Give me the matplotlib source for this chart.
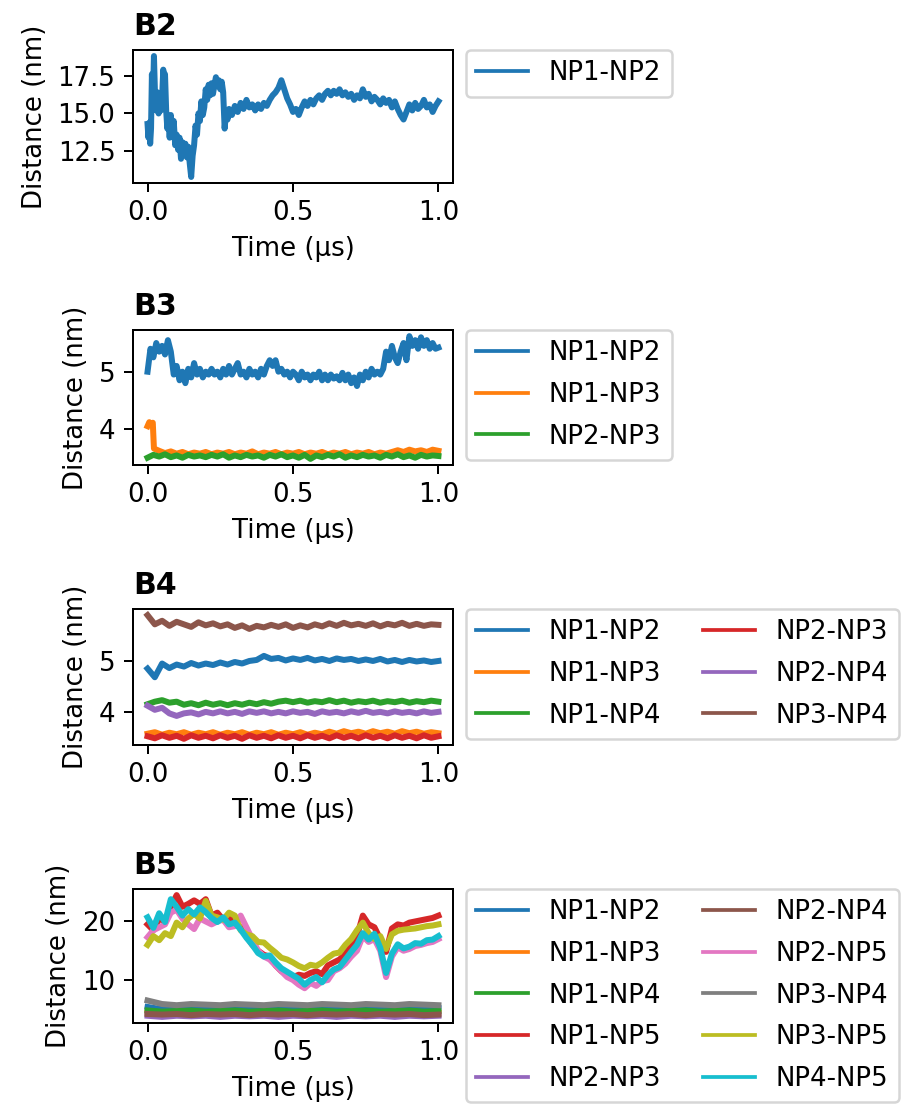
import numpy as np
import matplotlib
matplotlib.use("Agg")
import matplotlib.pyplot as plt

# ---------------- data ----------------
series_names_b2 = ["NP1-NP2"]
t_b2 = [0.000, 0.003, 0.006, 0.009, 0.012, 0.015, 0.018, 0.022, 0.026, 0.030,
        0.034, 0.038, 0.042, 0.046, 0.050, 0.054, 0.057, 0.060, 0.064, 0.068,
        0.072, 0.076, 0.080, 0.085, 0.090, 0.095, 0.100, 0.105, 0.110, 0.115,
        0.120, 0.125, 0.130, 0.135, 0.140, 0.145, 0.150, 0.155, 0.160, 0.165,
        0.170, 0.175, 0.180, 0.185, 0.190, 0.195, 0.200, 0.205, 0.210, 0.215,
        0.220, 0.225, 0.230, 0.235, 0.240, 0.245, 0.250, 0.255, 0.260, 0.265,
        0.270, 0.275, 0.280, 0.290, 0.300, 0.310, 0.320, 0.330, 0.340, 0.350,
        0.360, 0.370, 0.380, 0.390, 0.400, 0.410, 0.420, 0.430, 0.440, 0.450,
        0.460, 0.465, 0.470, 0.480, 0.490, 0.500, 0.510, 0.520, 0.530, 0.540,
        0.550, 0.560, 0.570, 0.580, 0.590, 0.600, 0.610, 0.620, 0.630, 0.640,
        0.650, 0.660, 0.670, 0.680, 0.690, 0.700, 0.710, 0.720, 0.730, 0.740,
        0.750, 0.760, 0.770, 0.780, 0.790, 0.800, 0.810, 0.820, 0.830, 0.840,
        0.850, 0.860, 0.870, 0.880, 0.890, 0.900, 0.910, 0.920, 0.930, 0.940,
        0.950, 0.960, 0.970, 0.980, 0.990, 1.000]
d_b2_np1_np2 = [14.3, 13.4, 14.4, 13.0, 14.0, 17.6, 15.5, 18.8, 16.0, 15.2,
                16.4, 15.0, 15.8, 15.2, 16.0, 17.9, 16.5, 17.6, 15.2, 14.0,
                14.8, 13.4, 14.9, 13.8, 14.5, 12.9, 13.6, 12.6, 13.4, 12.0,
                13.1, 12.4, 13.0, 12.1, 12.8, 11.7, 10.8, 12.2, 12.9, 14.2,
                13.6, 15.0, 14.5, 15.8, 14.9, 15.4, 16.6, 15.9, 16.9, 16.2,
                17.0, 16.3, 16.9, 17.4, 16.8, 17.2, 16.6, 17.1, 16.4, 14.0,
                15.1, 14.6, 15.3, 14.9, 15.5, 15.1, 15.7, 15.3, 15.9, 15.4,
                15.6, 15.2, 15.6, 15.3, 15.7, 15.5, 15.9, 16.2, 16.4, 16.7,
                17.2, 16.9, 16.6, 16.0, 15.6, 15.1, 15.3, 14.9, 15.4, 15.8,
                15.5, 15.9, 15.6, 16.0, 16.2, 15.9, 16.3, 16.5, 16.2, 16.5,
                16.3, 16.6, 16.2, 16.4, 16.1, 16.3, 15.9, 16.2, 16.0, 16.6,
                16.1, 16.3, 15.8, 16.1, 15.9, 15.6, 16.0, 15.7, 15.9, 15.4,
                15.8, 15.3, 14.9, 14.6, 15.1, 15.6, 15.2, 15.7, 15.3, 15.5,
                15.9, 15.4, 15.6, 15.1, 15.5, 15.8]

series_names_b3 = ["NP1-NP2", "NP1-NP3", "NP2-NP3"]
d_b3_np1_np2 = [5.00, 5.40, 5.25, 5.50, 5.35, 5.45, 5.30, 5.55, 5.35, 4.95,
                5.10, 4.85, 5.00, 4.80, 5.05, 4.90, 5.15, 4.95, 5.05, 4.90,
                5.00, 4.95, 5.05, 4.95, 5.00, 4.90, 5.05, 4.95, 5.10, 4.95,
                5.05, 5.15, 4.95, 5.00, 4.90, 5.05, 4.95, 5.00, 4.90, 5.05,
                4.95, 5.10, 5.20, 5.10, 5.20, 5.00, 5.05, 4.95, 5.00, 4.90,
                5.00, 4.95, 4.85, 5.00, 4.90, 4.95, 4.85, 4.95, 4.90, 5.00,
                4.85, 4.95, 4.85, 4.95, 4.88, 4.92, 4.85, 4.98, 4.85, 4.95,
                4.80, 4.90, 4.75, 4.95, 4.85, 5.00, 4.90, 5.05, 4.95, 5.00,
                4.95, 5.05, 5.35, 5.20, 5.45, 5.25, 5.15, 5.35, 5.50, 5.20,
                5.62, 5.45, 5.55, 5.40, 5.60, 5.45, 5.55, 5.40, 5.50, 5.40,
                5.42]
t_b3_np1_np3 = [0.0, 0.006, 0.012, 0.018, 0.022] + [round(0.04 + 0.02 * i, 3) for i in range(49)]
d_b3_np1_np3 = [4.05, 4.12, 4.07, 4.11, 3.66,
                3.62, 3.58, 3.61, 3.57, 3.60, 3.56, 3.59, 3.57, 3.60, 3.56,
                3.59, 3.57, 3.60, 3.56, 3.59, 3.57, 3.61, 3.56, 3.59, 3.57,
                3.60, 3.56, 3.59, 3.57, 3.60, 3.56, 3.59, 3.57, 3.60, 3.56,
                3.59, 3.57, 3.60, 3.56, 3.59, 3.57, 3.60, 3.56, 3.59, 3.57,
                3.60, 3.63, 3.60, 3.64, 3.61, 3.63, 3.60, 3.64, 3.62]
d_b3_np2_np3 = [3.50, 3.55, 3.52, 3.56, 3.51, 3.54, 3.50, 3.55, 3.52, 3.54,
                3.51, 3.55, 3.52, 3.56, 3.50, 3.54, 3.51, 3.55, 3.52, 3.54,
                3.50, 3.55, 3.52, 3.56, 3.51, 3.54, 3.50, 3.55, 3.48, 3.54,
                3.51, 3.55, 3.52, 3.56, 3.50, 3.54, 3.51, 3.55, 3.52, 3.54,
                3.50, 3.55, 3.52, 3.56, 3.51, 3.54, 3.50, 3.55, 3.52, 3.54,
                3.53]

series_names_b4 = ["NP1-NP2", "NP1-NP3", "NP1-NP4", "NP2-NP3", "NP2-NP4", "NP3-NP4"]
d_b4_np1_np2 = [4.85, 4.68, 4.95, 4.86, 4.93, 4.89, 4.96, 4.91, 4.95, 4.92,
                4.97, 4.93, 4.98, 4.95, 5.00, 5.02, 5.10, 5.04, 5.06, 5.01,
                5.05, 5.02, 5.06, 5.01, 5.04, 5.00, 5.05, 5.02, 5.04, 5.00,
                5.03, 5.00, 5.04, 4.99, 5.02, 4.98, 5.02, 4.99, 5.01, 4.98,
                5.00]
d_b4_np1_np3 = [3.57, 3.60, 3.55, 3.59, 3.56, 3.60, 3.55, 3.59, 3.56, 3.60,
                3.55, 3.59, 3.56, 3.60, 3.55, 3.59, 3.56, 3.60, 3.55, 3.59,
                3.56, 3.60, 3.55, 3.59, 3.56, 3.61, 3.57, 3.62, 3.58, 3.61,
                3.57, 3.62, 3.58, 3.61, 3.57, 3.62, 3.58, 3.61, 3.57, 3.60,
                3.58]
d_b4_np1_np4 = [4.15, 4.20, 4.23, 4.18, 4.20, 4.14, 4.17, 4.13, 4.18, 4.14,
                4.17, 4.13, 4.17, 4.14, 4.18, 4.15, 4.19, 4.16, 4.20, 4.22,
                4.19, 4.22, 4.18, 4.21, 4.19, 4.23, 4.19, 4.22, 4.18, 4.21,
                4.19, 4.22, 4.18, 4.21, 4.19, 4.22, 4.18, 4.21, 4.19, 4.22,
                4.20]
d_b4_np2_np3 = [3.52, 3.48, 3.54, 3.49, 3.53, 3.47, 3.54, 3.49, 3.53, 3.48,
                3.54, 3.49, 3.53, 3.47, 3.54, 3.49, 3.53, 3.48, 3.54, 3.49,
                3.53, 3.48, 3.54, 3.49, 3.53, 3.48, 3.54, 3.49, 3.53, 3.48,
                3.54, 3.49, 3.53, 3.48, 3.54, 3.49, 3.53, 3.48, 3.54, 3.49,
                3.52]
d_b4_np2_np4 = [4.12, 4.04, 4.08, 3.97, 3.92, 3.97, 3.99, 3.95, 4.00, 3.97,
                4.01, 3.97, 4.00, 3.96, 4.01, 3.98, 4.01, 3.97, 4.00, 3.97,
                4.01, 3.98, 4.00, 3.96, 4.01, 3.98, 4.00, 3.97, 4.01, 3.98,
                4.02, 3.98, 4.00, 3.97, 4.01, 3.98, 4.00, 3.97, 4.01, 3.98,
                4.00]
d_b4_np3_np4 = [5.90, 5.72, 5.79, 5.69, 5.77, 5.72, 5.67, 5.76, 5.70, 5.74,
                5.68, 5.72, 5.65, 5.70, 5.63, 5.69, 5.66, 5.71, 5.67, 5.72,
                5.65, 5.70, 5.66, 5.72, 5.68, 5.74, 5.69, 5.75, 5.70, 5.73,
                5.69, 5.74, 5.68, 5.73, 5.70, 5.75, 5.69, 5.73, 5.69, 5.72,
                5.71]

series_names_b5 = ["NP1-NP2", "NP1-NP3", "NP1-NP4", "NP1-NP5", "NP2-NP3",
                   "NP2-NP4", "NP2-NP5", "NP3-NP4", "NP3-NP5", "NP4-NP5"]
d_b5_np1_np2 = [5.4, 5.0, 5.3, 5.1, 5.3, 5.2, 5.1, 5.3, 5.2, 5.1, 5.3,
                5.2, 5.1, 5.3, 5.2, 5.1, 5.3, 5.2, 5.1, 5.3, 5.2]
d_b5_np1_np3 = [4.4, 4.5, 4.3, 4.4, 4.5, 4.3, 4.4, 4.5, 4.3, 4.4, 4.5,
                4.3, 4.4, 4.5, 4.3, 4.4, 4.5, 4.3, 4.4, 4.5, 4.4]
d_b5_np1_np4 = [4.8, 4.6, 4.7, 4.8, 4.6, 4.7, 4.8, 4.6, 4.7, 4.8, 4.6,
                4.7, 4.8, 4.6, 4.7, 4.8, 4.6, 4.7, 4.8, 4.6, 4.7]
d_b5_np1_np5 = [19.5, 18.5, 20.5, 20.0, 22.5, 24.5, 22.5, 23.0, 23.6, 23.0,
                23.8, 21.0, 21.5, 20.3, 20.8, 19.6, 19.0, 17.5, 16.0, 15.0,
                14.3, 14.0, 12.5, 11.5, 11.0, 10.5, 10.9, 10.7, 11.2, 11.5,
                11.0, 12.5, 13.0, 13.5, 14.5, 16.0, 17.5, 21.0, 19.5, 19.0,
                17.0, 14.8, 18.8, 19.5, 19.3, 19.8, 20.0, 20.2, 20.4, 20.6,
                21.0]
d_b5_np2_np3 = [3.9, 3.7, 3.9, 3.8, 3.9, 3.7, 3.9, 3.8, 3.9, 3.7, 3.9,
                3.8, 3.9, 3.7, 3.9, 3.8, 3.9, 3.7, 3.9, 3.8, 3.9]
d_b5_np2_np4 = [4.2, 4.1, 4.2, 4.0, 4.2, 4.1, 4.2, 4.0, 4.2, 4.1, 4.2,
                4.0, 4.2, 4.1, 4.2, 4.0, 4.2, 4.1, 4.2, 4.0, 4.1]
d_b5_np2_np5 = [17.3, 18.5, 19.0, 19.5, 21.5, 22.0, 20.5, 19.5, 18.7, 20.5,
                20.0, 19.5, 20.0, 20.3, 19.0, 19.2, 21.0, 19.0, 17.0, 15.0,
                14.0, 13.5, 12.5, 11.5, 10.5, 10.0, 9.2, 8.6, 9.5, 9.0,
                9.8, 10.0, 11.5, 12.0, 12.8, 14.0, 15.0, 17.5, 16.5, 17.0,
                15.0, 10.5, 14.0, 15.6, 15.0, 15.3, 15.8, 16.0, 16.3, 16.5,
                17.0]
d_b5_np3_np4 = [6.5, 5.9, 5.7, 5.9, 5.8, 5.7, 5.9, 5.8, 5.7, 5.9, 5.8,
                5.7, 5.9, 5.8, 5.7, 5.9, 5.8, 5.7, 5.9, 5.8, 5.7]
d_b5_np3_np5 = [16.0, 17.5, 16.8, 18.0, 17.5, 19.8, 19.0, 20.5, 21.3, 20.5,
                23.5, 21.0, 20.7, 20.3, 21.5, 21.0, 18.5, 17.8, 17.5, 16.5,
                16.4, 15.5, 14.7, 13.8, 13.5, 13.0, 12.4, 12.0, 12.6, 12.4,
                13.0, 13.8, 14.5, 14.7, 16.0, 17.0, 18.5, 19.8, 18.0, 17.0,
                17.5, 15.3, 17.8, 18.4, 18.6, 18.7, 18.8, 19.0, 19.2, 19.3,
                19.5]
d_b5_np4_np5 = [20.7, 18.9, 21.4, 19.9, 23.8, 22.5, 21.0, 22.1, 21.2, 22.4,
                21.6, 20.6, 19.9, 20.7, 19.5, 19.8, 18.6, 17.2, 16.0, 14.6,
                14.0, 14.2, 13.0, 12.0, 11.4, 10.8, 10.2, 9.2, 10.0, 10.5,
                9.6, 10.9, 11.8, 12.2, 13.5, 14.8, 16.0, 18.0, 16.9, 17.9,
                15.5, 11.2, 14.5, 16.1, 15.4, 15.7, 16.3, 16.2, 16.8, 16.9,
                17.5]

panel_titles = ["B2", "B3", "B4", "B5"]
x_ticks = [0.0, 0.5, 1.0]
y_ticks = [[12.5, 15.0, 17.5], [4, 5], [4, 5], [10, 20]]

# ---------------- figure ----------------
DPI = 180
plt.rcParams["font.size"] = 10.4
fig = plt.figure(figsize=(917 / DPI, 1106 / DPI), dpi=DPI)
fig.patch.set_facecolor("white")

W, H = 917.0, 1106.0
ax_left, ax_right = 133, 453
tops = [50, 330, 609, 889]
bottoms = [183, 465, 745, 1023]

panels = [
    (series_names_b2, [(t_b2, d_b2_np1_np2)], 1),
    (series_names_b3, [(None, d_b3_np1_np2), (t_b3_np1_np3, d_b3_np1_np3), (None, d_b3_np2_np3)], 1),
    (series_names_b4, [(None, d_b4_np1_np2), (None, d_b4_np1_np3), (None, d_b4_np1_np4),
                       (None, d_b4_np2_np3), (None, d_b4_np2_np4), (None, d_b4_np3_np4)], 2),
    (series_names_b5, [(None, d_b5_np1_np2), (None, d_b5_np1_np3), (None, d_b5_np1_np4),
                       (None, d_b5_np1_np5), (None, d_b5_np2_np3), (None, d_b5_np2_np4),
                       (None, d_b5_np2_np5), (None, d_b5_np3_np4), (None, d_b5_np3_np5),
                       (None, d_b5_np4_np5)], 2),
]

colors = plt.rcParams["axes.prop_cycle"].by_key()["color"]

for i, (names, data, ncol) in enumerate(panels):
    ax = fig.add_axes([ax_left / W, 1 - bottoms[i] / H,
                       (ax_right - ax_left) / W, (bottoms[i] - tops[i]) / H])
    for j, (tt, vals) in enumerate(data):
        if tt is None:
            tt = np.linspace(0, 1, len(vals))
        ax.plot(tt, vals, color=colors[j % 10], lw=2.4, label=names[j])
    ax.set_xticks(x_ticks)
    ax.set_yticks(y_ticks[i])
    ax.set_xlabel("Time (μs)")
    ax.set_ylabel("Distance (nm)")
    ax.set_title(panel_titles[i], loc="left", fontweight="bold", fontsize=12)
    leg = ax.legend(loc="upper left", bbox_to_anchor=(1.04, 1.0), borderaxespad=0.0,
                    ncol=ncol, labelspacing=0.6, columnspacing=1.6)
    for lh in leg.get_lines():
        lh.set_linewidth(1.5)

fig.savefig("out.png", dpi=DPI, facecolor="white")
